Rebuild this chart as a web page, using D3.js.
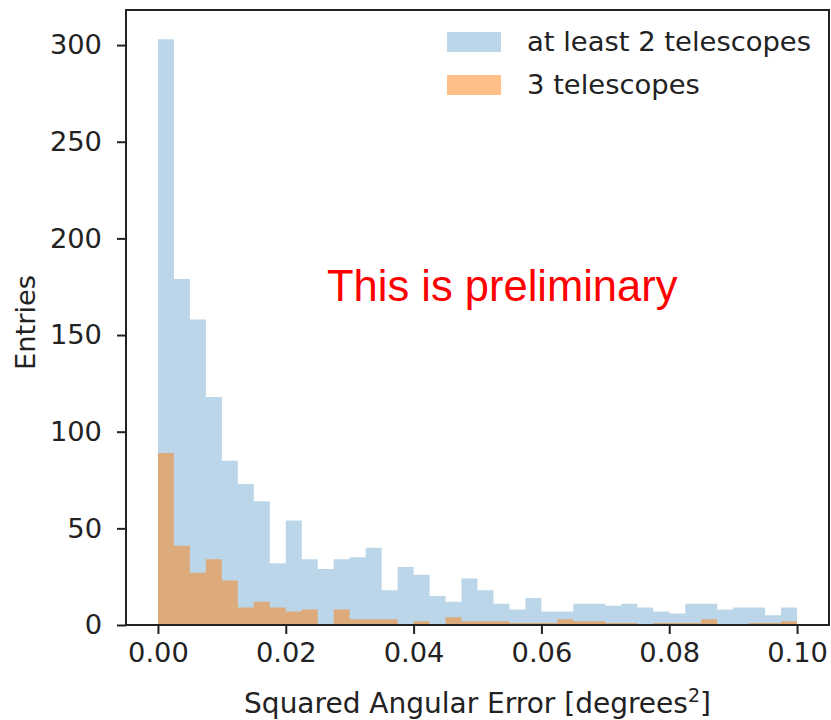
<!DOCTYPE html>
<html>
<head>
<meta charset="utf-8">
<script src="https://cdn.jsdelivr.net/npm/d3@7"></script>
<style>
  html, body { margin: 0; padding: 0; background: #fff; }
  svg { display: block; }
  text { font-family: "DejaVu Sans", sans-serif; fill: #222; }
</style>
</head>
<body>
<svg id="chart" width="831" height="720"></svg>
<script>
// Histogram settings: 40 equal bins over [0, 0.1]
const binStart = 0;
const binWidth = 0.0025;

// Entries per bin, events seen by at least 2 telescopes
const countsAtLeast2 = [303, 179, 158, 118, 85, 73, 64, 32, 54, 34,
                        29, 34, 35, 40, 18, 30, 26, 15, 12, 24,
                        18, 11, 8, 14, 7, 7, 11, 11, 10, 11,
                        9, 7, 6, 11, 11, 8, 9, 9, 5, 9];

// Entries per bin, events seen by 3 telescopes
const counts3 = [89, 41, 27, 34, 23, 9, 12, 9, 7, 8,
                 0, 8, 3, 3, 3, 0, 2, 0, 4, 2,
                 2, 2, 1, 1, 1, 3, 2, 2, 1, 1,
                 0, 1, 1, 1, 3, 0, 0, 1, 1, 2];

const seriesNames = ["at least 2 telescopes", "3 telescopes"];
const xTicks = [0.00, 0.02, 0.04, 0.06, 0.08, 0.10];
const yTicks = [0, 50, 100, 150, 200, 250, 300];

const svg = d3.select("#chart");
const plot = { left: 126, right: 829, top: 10, bottom: 625 };
const fontSize = 27.3;

const yMax = d3.max(countsAtLeast2) * 1.05;
const x = d3.scaleLinear().domain([-0.005, 0.105]).range([plot.left, plot.right]);
const y = d3.scaleLinear().domain([0, yMax]).range([plot.bottom, plot.top]);

const blue = "#1f77b4", orange = "#ff7f0e";
const series = [
  { name: seriesNames[0], counts: countsAtLeast2, color: blue, opacity: 0.3 },
  { name: seriesNames[1], counts: counts3, color: orange, opacity: 0.5 }
];

// Each histogram is one stepped filled shape (no seams between bins)
const stepArea = d3.area()
  .x(d => x(d.edge))
  .y0(y(0))
  .y1(d => y(d.count))
  .curve(d3.curveStepAfter);

series.forEach(s => {
  const pts = s.counts.map((c, i) => ({ edge: binStart + i * binWidth, count: c }));
  pts.push({ edge: binStart + s.counts.length * binWidth, count: s.counts[s.counts.length - 1] });
  svg.append("path")
    .datum(pts)
    .attr("d", stepArea)
    .attr("fill", s.color)
    .attr("fill-opacity", s.opacity);
});

// Axes
const xAxis = d3.axisBottom(x).tickValues(xTicks).tickFormat(d3.format(".2f"))
  .tickSize(9).tickPadding(9);
const yAxis = d3.axisLeft(y).tickValues(yTicks).tickFormat(d3.format("d"))
  .tickSize(9).tickPadding(15);

const gx = svg.append("g").attr("transform", `translate(0,${plot.bottom})`).call(xAxis);
const gy = svg.append("g").attr("transform", `translate(${plot.left},0)`).call(yAxis);
[gx, gy].forEach(g => {
  g.select(".domain").remove();
  g.selectAll(".tick line").attr("stroke", "#222").attr("stroke-width", 2);
  g.selectAll(".tick text").attr("font-size", fontSize).attr("fill", "#222")
    .style("font-family", "DejaVu Sans, sans-serif");
});

// Frame
svg.append("rect")
  .attr("x", plot.left).attr("y", plot.top)
  .attr("width", plot.right - plot.left).attr("height", plot.bottom - plot.top)
  .attr("fill", "none").attr("stroke", "#222").attr("stroke-width", 2);

// Axis labels
const xl = svg.append("text")
  .attr("x", (plot.left + plot.right) / 2).attr("y", 713)
  .attr("text-anchor", "middle").attr("font-size", 28);
xl.append("tspan").text("Squared Angular Error [degrees");
xl.append("tspan").text("2").attr("font-size", 19).attr("dy", -11);
xl.append("tspan").text("]").attr("dy", 11);

svg.append("text")
  .attr("transform", `translate(35,${(plot.top + plot.bottom) / 2 + 5}) rotate(-90)`)
  .attr("text-anchor", "middle").attr("font-size", fontSize)
  .text("Entries");

// Legend
const legend = svg.append("g");
series.forEach((s, i) => {
  const cy = 42 + i * 43;
  legend.append("rect")
    .attr("x", 447).attr("y", cy - 10).attr("width", 54).attr("height", 20)
    .attr("fill", s.color).attr("fill-opacity", s.opacity);
  legend.append("text")
    .attr("x", 527).attr("y", cy + 9)
    .attr("font-size", 27.4)
    .text(s.name);
});

// Annotation
svg.append("text")
  .attr("x", 327).attr("y", 301)
  .attr("font-size", 43.5)
  .style("font-family", "Liberation Sans, Arial, sans-serif")
  .style("fill", "#ff0000")
  .text("This is preliminary");
</script>
</body>
</html>
